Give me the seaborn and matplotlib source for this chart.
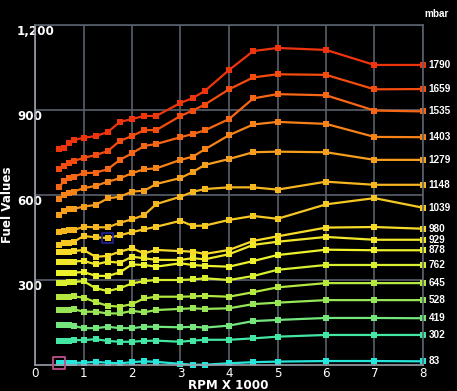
import numpy as np
import pandas as pd
import matplotlib
matplotlib.use("Agg")
import matplotlib.pyplot as plt
import seaborn as sns

# RPM breakpoints (x 1000)
rpm = [0.5, 0.6, 0.7, 0.8, 1.0, 1.25, 1.5, 1.75, 2.0, 2.25, 2.5,
       3.0, 3.25, 3.5, 4.0, 4.5, 5.0, 6.0, 7.0, 8.0]

# one fuel curve per manifold pressure (mbar)
pressures = [1790, 1659, 1535, 1403, 1279, 1148, 1039, 980,
             929, 878, 762, 645, 528, 419, 302, 83]

fuel_1790 = [761, 765, 785, 794, 802, 808, 822, 858, 868, 879, 879, 925, 942, 967, 1041, 1108, 1119, 1112, 1059, 1059]
fuel_1659 = [692, 702, 713, 720, 731, 741, 755, 791, 808, 829, 829, 879, 898, 919, 973, 1015, 1026, 1024, 973, 974]
fuel_1535 = [629, 649, 660, 665, 677, 679, 691, 724, 747, 773, 780, 804, 815, 828, 868, 941, 956, 952, 898, 895]
fuel_1403 = [586, 600, 607, 612, 624, 632, 647, 659, 677, 691, 694, 724, 735, 761, 811, 849, 858, 851, 805, 804]
fuel_1279 = [529, 544, 549, 551, 559, 565, 588, 594, 612, 615, 639, 660, 681, 706, 727, 751, 753, 751, 724, 724]
fuel_1148 = [469, 473, 475, 476, 488, 486, 486, 502, 514, 529, 568, 594, 611, 621, 627, 627, 619, 647, 636, 636]
fuel_1039 = [424, 429, 432, 435, 455, 451, 448, 458, 469, 479, 488, 509, 491, 492, 512, 526, 516, 567, 589, 555]
fuel_980 = [398, 398, 399, 402, 406, 382, 385, 400, 412, 394, 406, 402, 400, 392, 406, 438, 454, 485, 487, 481]
fuel_929 = [362, 363, 364, 365, 368, 355, 365, 361, 382, 377, 371, 371, 377, 373, 391, 424, 435, 452, 442, 442]
fuel_878 = [324, 324, 325, 326, 328, 315, 314, 327, 355, 353, 347, 359, 353, 350, 347, 367, 388, 407, 405, 405]
fuel_762 = [290, 291, 292, 293, 296, 271, 261, 271, 288, 296, 300, 300, 302, 306, 300, 314, 336, 353, 353, 353]
fuel_645 = [241, 241, 241, 242, 238, 222, 209, 206, 215, 235, 241, 241, 242, 244, 241, 257, 274, 289, 289, 289]
fuel_528 = [194, 194, 194, 197, 188, 188, 182, 182, 191, 186, 194, 198, 200, 198, 200, 215, 220, 229, 229, 229]
fuel_419 = [141, 141, 141, 138, 130, 130, 135, 130, 130, 135, 135, 133, 135, 132, 139, 155, 159, 166, 166, 165]
fuel_302 = [86, 86, 86, 88, 88, 91, 85, 82, 82, 85, 86, 82, 86, 89, 89, 94, 100, 106, 106, 106]
fuel_83 = [8, 8, 8, 8, 8, 11, 8, 6, 10, 13, 11, 4, 1, 1, 6, 10, 12, 14, 14, 13]

curves = [fuel_1790, fuel_1659, fuel_1535, fuel_1403, fuel_1279, fuel_1148, fuel_1039, fuel_980,
          fuel_929, fuel_878, fuel_762, fuel_645, fuel_528, fuel_419, fuel_302, fuel_83]

colors = ["#ee340c", "#f44c0e", "#f66614", "#f68218", "#f69e1e", "#f6b620", "#f6c824", "#f6dc28",
          "#f2e82a", "#eef22c", "#d8f030", "#b4e840", "#96e658", "#74e67c", "#44e6a4", "#26e6dc"]

rows = []
for p, vals in zip(pressures, curves):
    for r, v in zip(rpm, vals):
        rows.append({"rpm": r, "fuel": v, "mbar": str(p)})
df = pd.DataFrame(rows)
palette = {str(p): c for p, c in zip(pressures, colors)}

sns.set_style("dark")
plt.rcParams["font.family"] = ["DejaVu Sans"]

fig = plt.figure(figsize=(4.57, 3.91), dpi=100, facecolor="black")
ax = fig.add_axes([35 / 457, 26 / 391, 388 / 457, 340 / 391])
ax.set_facecolor("black")

sns.lineplot(data=df, x="rpm", y="fuel", hue="mbar", palette=palette,
             estimator=None, sort=False, marker="s", markersize=4.2,
             markeredgewidth=0, linewidth=1.6, legend=False, ax=ax)
for ln in ax.lines:
    ln.set_clip_on(False)

# cursor / selection boxes
ax.scatter([rpm[0]], [fuel_83[0]], marker="s", s=70, facecolors="none",
           edgecolors="#c0508c", linewidths=1.3, clip_on=False, zorder=5)
ax.scatter([rpm[6]], [fuel_1039[6]], marker="s", s=60, facecolors="none",
           edgecolors="#22228e", linewidths=1.3, clip_on=False, zorder=5)

ax.set_xlim(0, 8)
ax.set_ylim(0, 1200)
ax.set_xticks(range(0, 9))
ax.set_yticks([300, 600, 900, 1200])
ax.set_yticklabels(["{:,}".format(v) for v in [300, 600, 900, 1200]])
ax.grid(True, color="#58616c", linewidth=1.2)
ax.set_axisbelow(True)

ax.tick_params(axis="x", length=0, pad=1.5, colors="white", labelsize=8.6)
ax.tick_params(axis="y", length=0, pad=13, colors="white", labelsize=8.6)
for lbl in ax.get_yticklabels():
    lbl.set_ha("left")
    lbl.set_va("top")
    lbl.set_fontweight("bold")

for side in ["top", "right"]:
    ax.spines[side].set_color("#58616c")
    ax.spines[side].set_linewidth(1.2)
for side in ["left", "bottom"]:
    ax.spines[side].set_color("#9aa0aa")
    ax.spines[side].set_linewidth(1.2)

ax.set_xlabel("")
ax.set_ylabel("")

# pressure labels at the right end of each curve
for p, vals in zip(pressures, curves):
    ax.annotate(str(p), xy=(rpm[-1], vals[-1]), xytext=(4, 0),
                textcoords="offset points", va="center", ha="left",
                color="white", fontsize=7.2, fontweight="bold",
                family="Liberation Sans", annotation_clip=False)

fig.text(437 / 457, 1 - 14 / 391, "mbar", color="white", fontsize=7.2,
         fontweight="bold", family="Liberation Sans", ha="center", va="center")
fig.text(228 / 457, 1 - 385.5 / 391, "RPM X 1000", color="white", fontsize=8.6,
         fontweight="bold", ha="center", va="center")
fig.text(8 / 457, 1 - 205 / 391, "Fuel Values", color="white", fontsize=8.6,
         fontweight="bold", rotation=90, ha="center", va="center")

fig.savefig("out.png", dpi=100, facecolor="black")
